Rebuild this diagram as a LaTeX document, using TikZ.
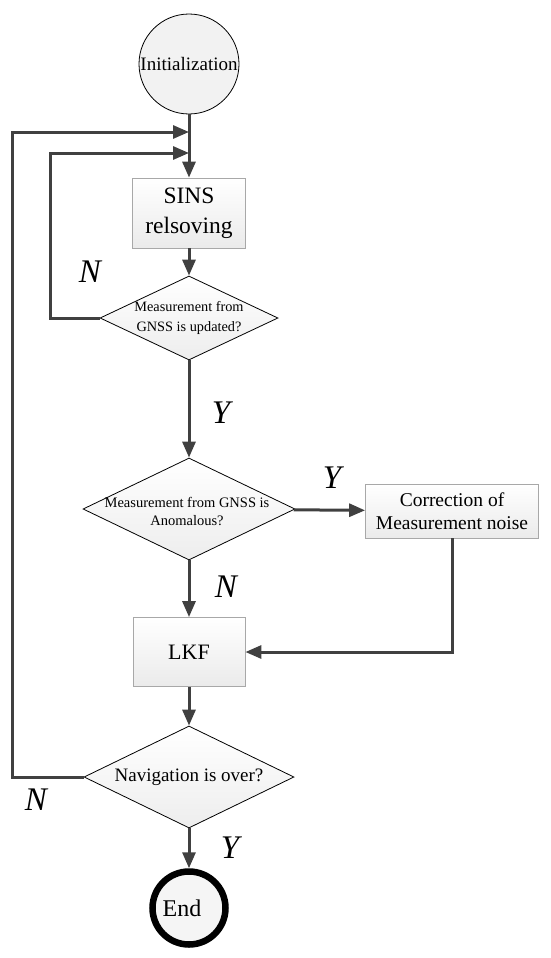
\documentclass[tikz,border=0pt]{standalone}
\usepackage{fontspec}
\setmainfont{Liberation Serif}
\usetikzlibrary{shapes.geometric,arrows.meta}
\definecolor{lineg}{HTML}{404040}
\definecolor{boxedge}{HTML}{A8A8A8}
\tikzset{
  conn/.style={draw=lineg,line width=3pt},
  arr/.style={conn,-{Triangle[length=16pt,width=13pt]}},
  procbox/.style={rectangle,draw=boxedge,line width=0.8pt,top color=white,bottom color=gray!16,inner sep=0pt,align=center},
  decis/.style={diamond,draw=black,line width=0.8pt,top color=white,bottom color=gray!14,inner sep=0pt,aspect=2},
  yn/.style={font=\fontsize{33}{36}\selectfont\itshape,inner sep=0pt},
}
\begin{document}
\begin{tikzpicture}[x=1pt,y=-1pt]
\useasboundingbox (0,0) rectangle (550,958);
% nodes
\node[circle,draw=black,line width=0.8pt,fill=gray!10,minimum size=100pt,inner sep=0pt,font=\fontsize{19}{21}\selectfont] (init) at (189,64) {Initialization};
\node[procbox,minimum width=113pt,minimum height=70pt,font=\fontsize{23.5}{30}\selectfont] (sins) at (189,213) {SINS\\relsoving};
\node[decis,minimum width=178pt,minimum height=84pt,label={[font=\fontsize{14.3}{20}\selectfont,align=center]center:Measurement from\\GNSS is updated?}] (d1) at (189,318) {};
\node[decis,minimum width=212pt,minimum height=102pt,label={[font=\fontsize{14.5}{18}\selectfont,align=center,yshift=-2pt,xshift=-2pt]center:Measurement from GNSS is\\Anomalous?}] (d2) at (189,509) {};
\node[procbox,minimum width=173pt,minimum height=54pt,font=\fontsize{19.5}{23}\selectfont] (corr) at (452,511) {Correction of\\Measurement noise};
\node[procbox,minimum width=112pt,minimum height=69pt,font=\fontsize{22}{26}\selectfont] (lkf) at (189,652) {LKF};
\node[decis,minimum width=210pt,minimum height=102pt,label={[font=\fontsize{19}{22}\selectfont]center:Navigation is over?}] (d3) at (189,777) {};
\node[circle,draw=black,line width=6.5pt,fill=gray!8,minimum size=73pt,inner sep=0pt,label={[font=\fontsize{24}{26}\selectfont,xshift=-7pt]center:End}] (end) at (189,908) {};
% junction coordinates
\coordinate (j1) at (189,132);
\coordinate (j2) at (189,153);
\coordinate (c1) at (12,132);
\coordinate (c2) at (50,153);
% connectors
\draw[arr] (init) -- (sins);
\draw[arr] (sins) -- (d1);
\draw[arr] (d1) -- (d2);
\draw[arr] (d2) -- (corr);
\draw[arr] (d2) -- (lkf);
\draw[arr] (corr.south) |- (lkf.east);
\draw[arr] (lkf) -- (d3);
\draw[arr] (d3) -- (end);
\draw[arr] (d1.west) -| (c2) -- (j2);
\draw[arr] (d3.west) -| (c1) -- (j1);
% labels
\node[yn] (n1) at (90,272) {N};
\node[yn] (y1) at (221,413) {Y};
\node[yn] (y2) at (332,478) {Y};
\node[yn] (n2) at (226,587) {N};
\node[yn] (n3) at (36,800) {N};
\node[yn] (y3) at (230,848) {Y};
\end{tikzpicture}
\end{document}
